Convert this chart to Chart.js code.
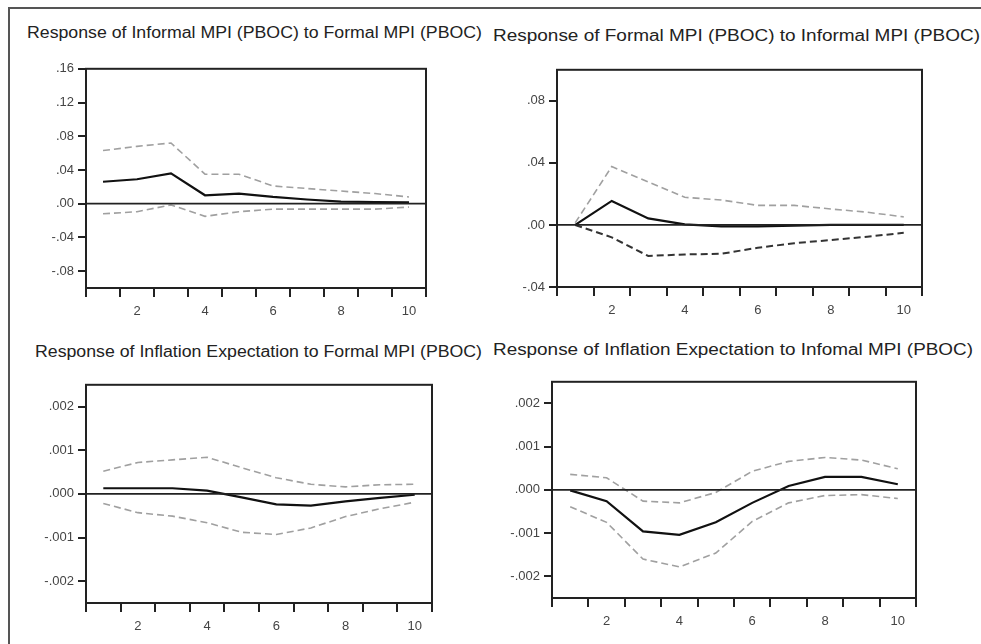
<!DOCTYPE html>
<html>
<head>
<meta charset="utf-8">
<script src="https://cdn.jsdelivr.net/npm/chart.js@4.4.1/dist/chart.umd.min.js"></script>
<style>
  html, body { margin: 0; padding: 0; background: #fff; }
  body { width: 981px; height: 644px; position: relative; overflow: hidden; font-family: "Liberation Sans", Arial, sans-serif; }
  .frame { position: absolute; left: 8px; top: 7px; width: 1000px; height: 700px; border-left: 2px solid #555; border-top: 2px solid #555; }
  .title { position: absolute; font-size: 16px; color: #222; white-space: nowrap; transform-origin: 0 50%; line-height: 18px; }
  canvas { position: absolute; }
</style>
</head>
<body>
<div class="frame"></div>
<script>
const periods = ['1', '2', '3', '4', '5', '6', '7', '8', '9', '10'];

// Response of Informal MPI (PBOC) to Formal MPI (PBOC)
const p1Response = [0.026, 0.029, 0.036, 0.010, 0.012, 0.008, 0.005, 0.0025, 0.002, 0.0015];
const p1Upper = [0.063, 0.068, 0.072, 0.035, 0.035, 0.021, 0.018, 0.015, 0.012, 0.008];
const p1Lower = [-0.012, -0.0095, -0.0015, -0.015, -0.0095, -0.0065, -0.0065, -0.0065, -0.0065, -0.004];
const p1Ticks = [-0.08, -0.04, 0, 0.04, 0.08, 0.12, 0.16];
const p1TickLabels = ['-.08', '-.04', '.00', '.04', '.08', '.12', '.16'];

// Response of Formal MPI (PBOC) to Informal MPI (PBOC)
const p2Response = [0.0, 0.0155, 0.0042, 0.0004, -0.0009, -0.0009, -0.0004, 0.0, 0.0, 0.0];
const p2Upper = [0.0014, 0.0376, 0.0277, 0.0178, 0.0161, 0.0126, 0.0126, 0.0103, 0.0082, 0.0052];
const p2Lower = [0.0, -0.008, -0.020, -0.019, -0.0186, -0.0147, -0.0118, -0.0097, -0.0076, -0.0051];
const p2Ticks = [-0.04, 0, 0.04, 0.08];
const p2TickLabels = ['-.04', '.00', '.04', '.08'];

// Response of Inflation Expectation to Formal MPI (PBOC)
const p3Response = [0.00013, 0.00013, 0.00013, 0.000075, -0.00008, -0.00024, -0.00027, -0.00017, -0.00009, -0.00002];
const p3Upper = [0.00052, 0.00072, 0.00078, 0.00084, 0.0006, 0.00037, 0.00022, 0.00016, 0.00021, 0.00022];
const p3Lower = [-0.00022, -0.00043, -0.00051, -0.00066, -0.00088, -0.00093, -0.00078, -0.00052, -0.00034, -0.00019];

// Response of Inflation Expectation to Infomal MPI (PBOC)
const p4Response = [-0.00001, -0.00026, -0.00096, -0.00104, -0.00075, -0.0003, 0.00009, 0.0003, 0.0003, 0.00013];
const p4Upper = [0.00036, 0.00028, -0.00026, -0.0003, -0.00006, 0.00043, 0.00066, 0.00075, 0.00069, 0.00049];
const p4Lower = [-0.00039, -0.00075, -0.0016, -0.00178, -0.00146, -0.00073, -0.0003, -0.00013, -0.00011, -0.0002];

const smallTicks = [-0.002, -0.001, 0, 0.001, 0.002];
const smallTickLabels = ['-.002', '-.001', '.000', '.001', '.002'];

const panels = [
  { title: 'Response of Informal MPI (PBOC) to Formal MPI (PBOC)', tx: 27, ty: 24, tw: 455,
    box: [86, 61, 426, 288], min: -0.1, max: 0.16, ticks: p1Ticks, labels: p1TickLabels,
    resp: p1Response, upper: p1Upper, lower: p1Lower, lowerColor: '#a0a0a0' },
  { title: 'Response of Formal MPI (PBOC) to Informal MPI (PBOC)', tx: 493, ty: 27, tw: 487,
    box: [557, 62, 922, 287], min: -0.04, max: 0.1, ticks: p2Ticks, labels: p2TickLabels,
    resp: p2Response, upper: p2Upper, lower: p2Lower, lowerColor: '#333' },
  { title: 'Response of Inflation Expectation to Formal MPI (PBOC)', tx: 35, ty: 343, tw: 447,
    box: [86, 377, 432, 603], min: -0.0025, max: 0.0025, ticks: smallTicks, labels: smallTickLabels,
    resp: p3Response, upper: p3Upper, lower: p3Lower, lowerColor: '#a0a0a0' },
  { title: 'Response of Inflation Expectation to Infomal MPI (PBOC)', tx: 493, ty: 341, tw: 480,
    box: [552, 374, 916, 598], min: -0.0025, max: 0.0025, ticks: smallTicks, labels: smallTickLabels,
    resp: p4Response, upper: p4Upper, lower: p4Lower, lowerColor: '#a0a0a0' }
];

// draws the closed box and the zero line over the series
const framePlugin = {
  id: 'frame',
  afterDatasetsDraw(chart) {
    const { ctx, chartArea: a, scales } = chart;
    ctx.save();
    ctx.strokeStyle = '#222';
    ctx.lineWidth = 2;
    ctx.strokeRect(a.left, a.top, a.right - a.left, a.bottom - a.top);
    const y0 = scales.y.getPixelForValue(0);
    ctx.lineWidth = 1.8;
    ctx.beginPath();
    ctx.moveTo(a.left, y0);
    ctx.lineTo(a.right, y0);
    ctx.stroke();
    ctx.restore();
  }
};

panels.forEach(p => {
  const t = document.createElement('div');
  t.className = 'title';
  t.textContent = p.title;
  t.style.left = p.tx + 'px';
  t.style.top = p.ty + 'px';
  document.body.appendChild(t);
  const w = t.getBoundingClientRect().width;
  t.style.transform = 'scaleX(' + (p.tw / w) + ')';

  const [l, top, r, b] = p.box;
  const canvas = document.createElement('canvas');
  const cw = r - l + 90, ch = b - top + 44;
  canvas.width = cw;
  canvas.height = ch;
  canvas.style.left = (l - 86) + 'px';
  canvas.style.top = (top - 4) + 'px';
  canvas.style.width = cw + 'px';
  canvas.style.height = ch + 'px';
  document.body.appendChild(canvas);

  new Chart(canvas.getContext('2d'), {
    type: 'line',
    data: {
      labels: periods,
      datasets: [
        { data: p.upper, borderColor: '#a0a0a0', borderWidth: 1.6, borderDash: [7, 4] },
        { data: p.lower, borderColor: p.lowerColor, borderWidth: p.lowerColor === '#333' ? 2 : 1.6, borderDash: [7, 4] },
        { data: p.resp, borderColor: '#111', borderWidth: 2.2 }
      ]
    },
    options: {
      responsive: false,
      animation: false,
      elements: { point: { radius: 0 }, line: { tension: 0 } },
      layout: { padding: { left: 0, top: 4, right: 4, bottom: 0 } },
      plugins: { legend: { display: false }, tooltip: { enabled: false } },
      scales: {
        x: {
          type: 'category',
          offset: true,
          grid: { offset: true, drawOnChartArea: false, drawTicks: true, tickLength: 9, tickColor: '#222', lineWidth: 2 },
          border: { display: true, color: '#222', width: 2 },
          ticks: {
            autoSkip: false, maxRotation: 0, padding: 7, color: '#444',
            font: { family: 'Liberation Sans', size: 13 },
            callback: (v, i) => ((i + 1) % 2 === 0 ? periods[i] : '')
          },
          afterFit: s => { s.height = 40; }
        },
        y: {
          min: p.min,
          max: p.max,
          afterBuildTicks: s => { s.ticks = p.ticks.map(v => ({ value: v })); },
          grid: { drawOnChartArea: false, drawTicks: true, tickLength: 8, tickColor: '#222', lineWidth: 2 },
          border: { display: true, color: '#222', width: 2 },
          ticks: {
            padding: 4, color: '#444',
            font: { family: 'Liberation Sans', size: 13 },
            callback: (v, i) => p.labels[i]
          },
          afterFit: s => { s.width = 86; }
        }
      }
    },
    plugins: [framePlugin]
  });
});
</script>
</body>
</html>
